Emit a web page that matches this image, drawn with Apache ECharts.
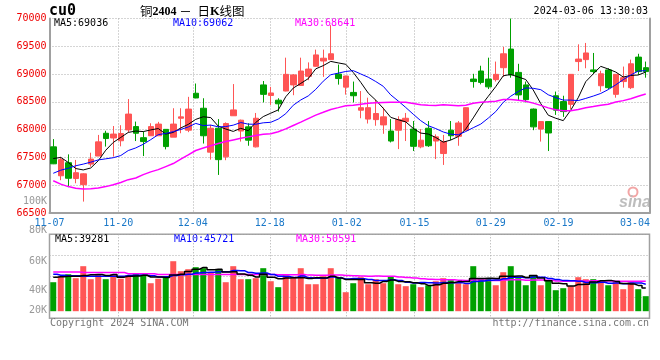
<!DOCTYPE html>
<html><head><meta charset="utf-8">
<script src="https://cdn.jsdelivr.net/npm/echarts@6/dist/echarts.min.js"></script>
<style>html,body{margin:0;padding:0;background:#fff}#c{width:660px;height:360px}</style>
</head><body><div id="c"></div>
<script>
// ---------- data ----------
const dates = ['11-07','11-08','11-09','11-10','11-13','11-14','11-15','11-16','11-17','11-20','11-21','11-22','11-23','11-24','11-27','11-28','11-29','11-30',
'12-01','12-04','12-05','12-06','12-07','12-08','12-11','12-12','12-13','12-14','12-15','12-18','12-19','12-20','12-21','12-22','12-25','12-26','12-27','12-28','12-29',
'01-02','01-03','01-04','01-05','01-08','01-09','01-10','01-11','01-12','01-15','01-16','01-17','01-18','01-19','01-22','01-23','01-24','01-25','01-26','01-29','01-30','01-31',
'02-01','02-02','02-05','02-06','02-07','02-08','02-19','02-20','02-21','02-22','02-23','02-26','02-27','02-28','02-29',
'03-01','03-04','03-05','03-06'];
const open  = [67690,67170,67405,67120,67010,67380,67525,67935,67850,67800,67995,68055,67855,67890,67890,68005,67865,68205,67990,68655,
               68385,67595,68025,67510,68250,67975,68050,67690,68805,68615,68530,68695,68805,68795,68960,69140,69235,69260,69000,68765,
               68670,68350,68190,68180,68085,67975,67990,68145,68010,67690,68025,67795,67570,67990,67880,67990,68910,69055,68910,68900,
               69115,69450,69030,68805,68370,68010,68145,68610,68505,68455,69225,69260,69075,68790,69075,68635,68865,68755,69305,69115];
const close = [67385,67460,67125,67225,67205,67470,67780,67840,67920,67930,68280,67935,67785,68055,68100,67695,68100,68230,68370,68570,
               67890,68025,67460,68110,68355,68170,67810,68205,68635,68660,68465,68995,68985,69055,69090,69345,69285,69365,68920,68965,
               68610,68395,68395,68290,68230,67795,68180,68205,67700,67810,67710,67870,67785,67890,68120,68395,68865,68850,68770,68995,
               69365,68985,68625,68540,68050,68145,67940,68350,68325,68995,69270,69380,69045,69005,68755,68995,68935,69185,69045,69045];
const low   = [67380,67090,66965,67035,66705,67335,67525,67695,67515,67700,67950,67795,67525,67890,67890,67645,67865,67935,67955,68565,
               67750,67460,67185,67450,68250,67785,67710,67680,68490,68445,68325,68690,68620,68790,68890,69135,68950,69255,68810,68630,
               68490,68205,68110,68070,67925,67770,67650,67795,67615,67665,67690,67470,67365,67810,67710,67985,68755,68815,68730,68865,
               68950,68935,68515,68490,67990,67785,67615,68265,68230,68370,69055,69105,69005,68685,68730,68575,68755,68730,68985,68935];
const high  = [67830,67510,67555,67455,67215,67585,67905,67980,68065,68080,68550,68145,67965,68115,68140,68010,68385,68385,68590,68830,
               68565,68085,68190,68130,68820,68180,68115,68300,68875,68770,68565,69295,69000,69295,69210,69440,69440,69880,69170,68970,
               68865,68695,68575,68540,68395,68190,68240,68300,68155,68010,68155,67915,67905,68155,68155,68400,69005,69150,69295,69225,
               69490,70000,69185,68865,68380,68150,68150,68685,68610,69000,69535,69560,69380,69060,69105,69000,69135,69260,69365,69225];
const ma5  = [67480,67500,67410,67300,67275,67310,67440,67630,67770,67860,67950,67975,67965,67995,68020,67920,67950,68030,68095,68185,
              68232,68217,68063,68011,67968,68024,67981,68130,68235,68296,68355,68592,68748,68832,68918,69094,69152,69228,69201,69176,
              69029,68851,68657,68531,68384,68221,68178,68140,68022,67938,67921,67859,67775,67813,67875,68012,68211,68424,68600,68775,
              68969,68993,68948,68902,68713,68469,68260,68205,68162,68351,68576,68864,69003,69139,69091,69036,68947,68975,68983,69036];
const ma10 = [67215,67270,67305,67350,67380,67415,67455,67475,67495,67534,67624,67671,67737,67820,67910,67932,67964,68003,68048,68112,
              68073,68082,68050,68055,68081,68128,68099,68097,68123,68132,68190,68287,68439,68534,68607,68725,68872,68988,69017,69047,
              69062,69002,68943,68866,68780,68625,68515,68399,68277,68161,68071,68019,67958,67918,67907,67967,68035,68100,68207,68325,
              68491,68602,68686,68751,68744,68719,68627,68577,68532,68532,68523,68562,68604,68651,68721,68806,68900,68983,69055,69062];
const ma30 = [67080,67020,66975,66945,66932,66935,66950,66975,67010,67050,67100,67130,67190,67240,67280,67335,67390,67470,67545,67625,
              67670,67710,67750,67785,67815,67845,67870,67895,67915,67926,67962,68013,68075,68136,68199,68262,68312,68363,68396,68430,
              68441,68457,68477,68485,68489,68493,68495,68494,68472,68447,68441,68436,68446,68439,68431,68439,68474,68495,68500,68511,
              68541,68541,68529,68512,68477,68437,68392,68358,68338,68339,68361,68394,68416,68440,68457,68497,68522,68555,68600,68641];
const volume = [49000,59200,62500,55800,76100,54100,62500,54100,62500,54900,60800,64200,61700,47300,54900,57500,84500,67600,71000,74400,
                72700,65100,71000,49000,76100,54100,54100,55800,72700,50700,40600,60800,57500,72700,45600,45600,59200,72700,57500,32100,
                47300,57500,45600,54100,47300,59200,45600,42300,45600,40600,43900,50700,55800,52400,47300,45600,76100,54100,55800,43900,
                65900,76100,55800,43900,60800,43900,52400,35500,38900,42300,57500,54100,54100,49000,43900,50700,37200,49000,37200,25400];
const vma5  = [57500,58300,59200,59200,60500,61500,62200,60500,61900,57600,59000,59300,60800,57800,57800,57100,61200,62400,67100,71000,
               74000,70100,70800,66400,66800,63000,60800,57800,62500,57500,54800,56100,56400,56400,55400,56400,56100,59200,56100,53400,
               53700,53400,48000,47300,50400,52700,50400,49700,48000,46600,43600,44600,47300,48700,50000,50400,55400,55100,55800,55100,
               59200,59200,59500,57100,60500,56100,51400,47300,46300,42600,45300,45600,49300,51400,51700,50400,47000,46000,43600,39281];
const vma10 = [62500,60800,60000,60000,59200,59200,59200,59200,59200,59100,60200,60800,60700,59800,57700,58100,60200,61600,62400,64400,
               65600,65700,66600,66800,68900,68500,65500,64300,64500,62100,58900,58500,57100,59500,56400,55600,56100,57800,56300,54400,
               55100,54800,53600,51700,51900,53200,51900,48800,47700,48500,48200,47500,48500,48300,48300,47000,50000,51200,52200,52600,
               54800,57300,57300,56400,57800,57600,55300,53400,51700,51500,50700,48500,48300,48800,47200,47800,46300,47700,47500,45721];
const vma30 = [66400,66400,66400,66400,65400,65400,65400,65400,65400,65400,63400,63400,63400,63400,62200,62200,62200,62200,62200,62200,
               62200,62200,62200,62000,62000,62000,62000,62000,62000,61900,61600,61600,61500,62000,61000,60700,60600,61200,61100,60300,
               59900,59600,59100,59300,59100,59100,57800,57000,56100,55000,54000,53600,53100,53200,52200,51900,52700,52600,52100,51800,
               52700,53200,53100,52200,52700,52600,52400,51200,50500,50900,51200,51100,51400,51200,51100,50800,50500,50800,50500,50591];
// axis ticks (x positions in candle units from the left edge)
const xTickLabels = ['11-07','11-20','12-04','12-18','01-02','01-15','01-29','02-19','03-04'];
const xTickPos    = [0, 9.17, 19.1, 29.37, 39.63, 48.67, 58.83, 67.87, 78.07];
const volTickLabels = ['100K','80K','60K','40K','20K'];
const volTickY      = [201, 230.5, 261, 290.7, 310.7];
const priceLegend = ['MA5:69036','MA10:69062','MA30:68641'];
const volLegend   = ['MA5:39281','MA10:45721','MA30:50591'];

// ---------- chart ----------
const mono = 'DejaVu Sans Mono';
const RED = '#ff5555', GREEN = '#00a000';
const dotted = {color:'#aaaaaa', type:[1,2], width:1};
const axisGray = '#a0a0a0';
const candles = dates.map((d,i)=>[open[i], close[i], low[i], high[i]]);
const volBars = volume.map((v,i)=>({value:v, itemStyle:{color: close[i] >= open[i] ? RED : GREEN}}));
const gridPos = xTickPos.slice(1, -1);
function nearestLabel(v){let b=0;for(let i=1;i<xTickPos.length;i++){if(Math.abs(xTickPos[i]-v)<Math.abs(xTickPos[b]-v))b=i;}return xTickLabels[b];}

const chart = echarts.init(document.getElementById('c'), null, {renderer:'canvas', width:660, height:360});
const legendColors = ['#000000','#0000ff','#ff00ff'];
const legendX = [54, 173, 295];
const graphic = [
  {type:'text', x:49, y:11.5, style:{text:'cu0', font:'bold 15px "DejaVu Sans Mono"', fill:'#000', verticalAlign:'middle'}},
  {type:'text', x:140, y:11.5, style:{text:'{a|铜}{b|2404}{a| －  日}{k|K}{a|线图}', verticalAlign:'middle',
     rich:{a:{fontFamily:'Noto Sans CJK SC', fontSize:12.5, fill:'#000', color:'#000'},
           b:{fontFamily:'Liberation Serif', fontSize:12, fontWeight:'bold', color:'#888'},
           k:{fontFamily:'Liberation Serif', fontSize:12.5, fontWeight:'bold', color:'#000'}}}},
  {type:'text', x:648, y:11.5, style:{text:'2024-03-06 13:30:03', font:'10px "DejaVu Sans Mono"', fill:'#000', align:'right', verticalAlign:'middle'}},
  {type:'text', x:50, y:323.5, style:{text:'Copyright 2024 SINA.COM', font:'10px "DejaVu Sans Mono"', fill:'#777', verticalAlign:'middle'}},
  {type:'text', x:649, y:323.5, style:{text:'http://finance.sina.com.cn', font:'10px "DejaVu Sans Mono"', fill:'#777', align:'right', verticalAlign:'middle'}},
  {type:'circle', shape:{cx:633, cy:192, r:4.5}, style:{fill:'none', stroke:'#f2a5a5', lineWidth:2}},
  {type:'text', x:619, y:203, style:{text:'sina', font:'italic bold 16px "Liberation Sans"', fill:'#bdbdbd', verticalAlign:'middle'}}
];
priceLegend.forEach((t,i)=>graphic.push({type:'text', x:legendX[i], y:23.5, style:{text:t, font:'10px "DejaVu Sans Mono"', fill:legendColors[i], verticalAlign:'middle'}}));
volLegend.forEach((t,i)=>graphic.push({type:'text', x:legendX[i]+1, y:239, style:{text:t, font:'10px "DejaVu Sans Mono"', fill:legendColors[i], verticalAlign:'middle'}}));
volTickLabels.forEach((t,i)=>graphic.push({type:'text', x:47, y:volTickY[i], style:{text:t, font:'10px "DejaVu Sans Mono"', fill:'#999', align:'right', verticalAlign:'middle'}}));

const option = {
  animation:false,
  backgroundColor:'#ffffff',
  grid:[
    {left:49.5, top:18.5, width:600, height:194.5, show:false},
    {left:49.5, top:234.3, width:600, height:84, show:true, borderColor:axisGray, borderWidth:1.5, backgroundColor:'transparent'}
  ],
  xAxis:[
    {type:'category', gridIndex:0, position:'bottom', data:dates, boundaryGap:true,
     axisLine:{onZero:false, lineStyle:{color:axisGray, width:2}}, axisTick:{show:false}, axisLabel:{show:false}, splitLine:{show:false}},
    {type:'value', gridIndex:0, position:'bottom', min:0, max:80,
     axisLine:{show:false}, axisTick:{show:false, customValues:gridPos},
     axisLabel:{customValues:xTickPos, formatter:v=>nearestLabel(v), color:'#1a78c8', fontFamily:mono, fontSize:10, margin:5},
     splitLine:{show:true, lineStyle:dotted}},
    {type:'category', gridIndex:1, position:'bottom', data:dates, boundaryGap:true,
     axisLine:{show:false, onZero:false}, axisTick:{show:false}, axisLabel:{show:false}, splitLine:{show:false}},
    {type:'value', gridIndex:1, position:'bottom', min:0, max:80,
     axisLine:{show:false}, axisTick:{show:false, customValues:gridPos}, axisLabel:{show:false},
     splitLine:{show:true, lineStyle:dotted}}
  ],
  yAxis:[
    {type:'value', gridIndex:0, position:'left', min:66500, max:70000, interval:500,
     axisLine:{show:true, lineStyle:{color:axisGray, width:2}}, axisTick:{show:false},
     axisLabel:{color:'#ee0000', fontFamily:mono, fontSize:10, margin:3, formatter:v=>String(v), padding:[0,0,3,0]},
     splitLine:{show:true, lineStyle:dotted}},
    {type:'value', gridIndex:0, position:'right', min:0, max:1,
     axisLine:{show:true, lineStyle:{color:axisGray, width:2}}, axisTick:{show:false}, axisLabel:{show:false}, splitLine:{show:false}},
    {type:'value', gridIndex:1, position:'left', min:-12000, max:130000,
     axisLine:{show:false}, axisTick:{show:false}, axisLabel:{show:false}, splitLine:{show:false}},
    {type:'value', gridIndex:1, position:'right', min:0, max:4, interval:1,
     axisLine:{show:false}, axisTick:{show:false}, axisLabel:{show:false}, splitLine:{show:true, lineStyle:dotted}}
  ],
  series:[
    {type:'candlestick', xAxisIndex:0, yAxisIndex:0, data:candles, barWidth:6,
     itemStyle:{color:RED, color0:GREEN, borderColor:RED, borderColor0:GREEN, borderWidth:1}},
    {type:'line', xAxisIndex:0, yAxisIndex:0, data:ma5, symbol:'none', lineStyle:{color:'#000', width:1}},
    {type:'line', xAxisIndex:0, yAxisIndex:0, data:ma10, symbol:'none', lineStyle:{color:'#0000ff', width:1}},
    {type:'line', xAxisIndex:0, yAxisIndex:0, data:ma30, symbol:'none', lineStyle:{color:'#ff00ff', width:1.5}},
    {type:'bar', xAxisIndex:2, yAxisIndex:2, data:volBars, barWidth:6},
    {type:'line', xAxisIndex:2, yAxisIndex:2, data:vma30, symbol:'none', step:'middle', lineStyle:{color:'#ff00ff', width:1.5}},
    {type:'line', xAxisIndex:2, yAxisIndex:2, data:vma10, symbol:'none', step:'middle', lineStyle:{color:'#0000ff', width:1.5}},
    {type:'line', xAxisIndex:2, yAxisIndex:2, data:vma5, symbol:'none', step:'middle', lineStyle:{color:'#000', width:1.5}}
  ],
  graphic:graphic
};
chart.setOption(option);
</script>
</body></html>
